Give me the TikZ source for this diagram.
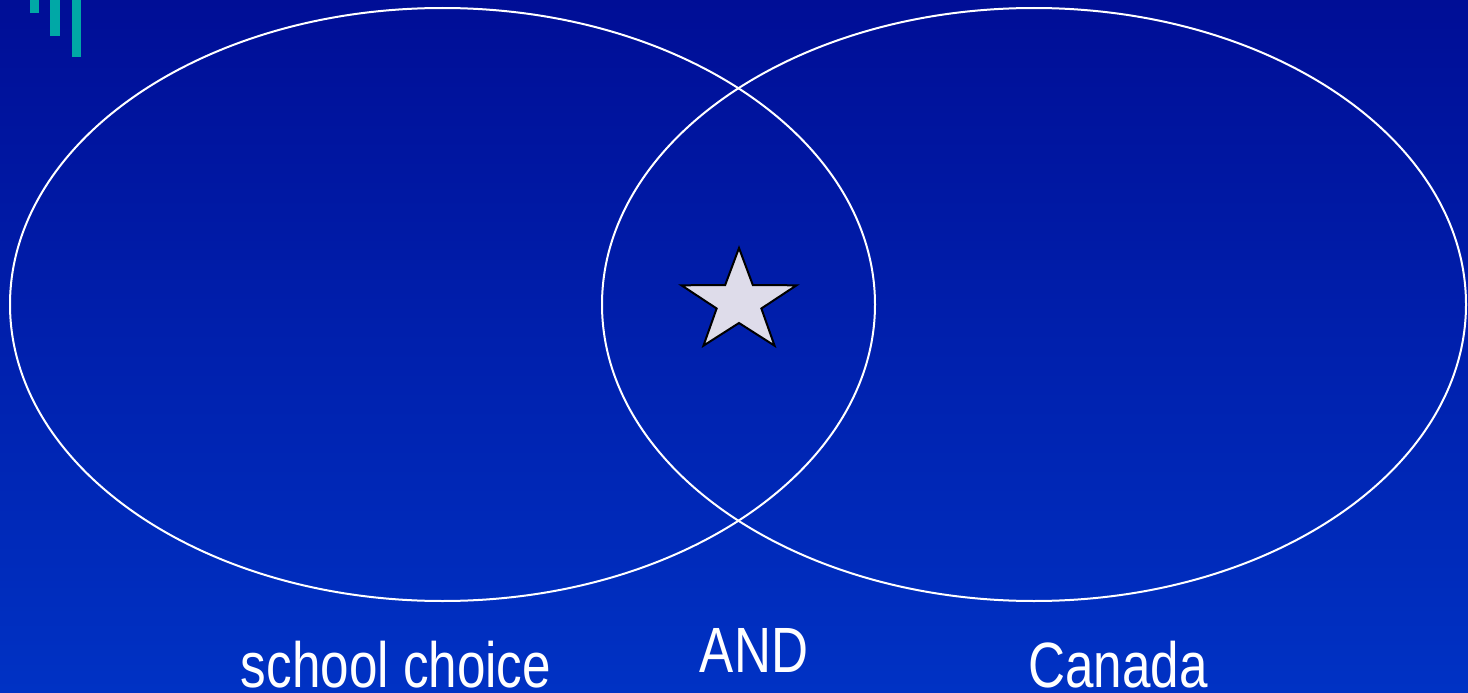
\documentclass[tikz,border=0pt]{standalone}
\usepackage{fontspec}
\setmainfont{Liberation Sans}[FakeStretch=0.8]
\usepackage{tikz}
\usetikzlibrary{positioning}
\definecolor{slidetop}{RGB}{0,14,150}
\definecolor{slidebot}{RGB}{0,50,196}
\definecolor{tealbar}{RGB}{0,168,166}
\definecolor{starfill}{RGB}{222,220,234}

\begin{document}
\begin{tikzpicture}[x=1pt, y=-1pt,
    setline/.style={draw=white, line width=2},
    setlabel/.style={text=white, anchor=base, inner sep=0pt,
                     font=\fontsize{64}{70}\selectfont}]
  \useasboundingbox (0,0) rectangle (1468,693);
  % the slide background
  \shade[top color=slidetop, bottom color=slidebot] (0,0) rectangle (1468,693);
  % bars in the corner
  \fill[tealbar] (30,0) rectangle (39,13);
  \fill[tealbar] (50,0) rectangle (60,36);
  \fill[tealbar] (72,0) rectangle (81,57);

  % the two sets
  \draw[setline] (442.5,304.5) ellipse [x radius=432.5, y radius=296.5];
  \draw[setline] (1034,304.5) ellipse [x radius=432, y radius=296.5];

  % the overlap
  \begin{scope}[shift={(739,302)}, xscale=1.12]
    \draw[fill=starfill, line width=2, line join=miter]
      (-90:54) \foreach \a in {0,...,4}{ -- (-54+72*\a:21) -- (-18+72*\a:54) } -- cycle;
  \end{scope}

  % labels
  \node[setlabel] (school) at (396,687) {school choice};
  \node[setlabel] (and) at (754,672) {AND};
  \node[setlabel] (canada) at (1118,687) {Canada};
\end{tikzpicture}
\end{document}
